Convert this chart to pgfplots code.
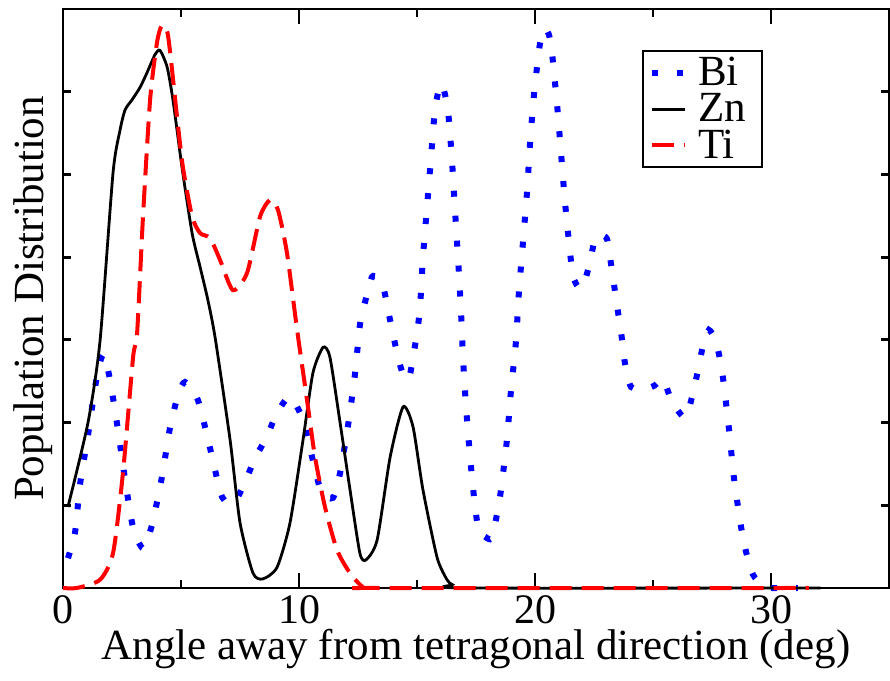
\documentclass[border=0pt]{standalone}
\usepackage{fontspec}
\setmainfont{Liberation Serif}
\usepackage{pgfplots}
\pgfplotsset{compat=1.18}

\pgfplotstableread{
x y
0.21 0.36
0.51 0.67
0.72 1.25
1.06 1.85
1.36 2.43
1.57 2.73
1.74 2.82
1.99 2.52
2.33 1.91
2.63 1.31
2.97 0.73
3.39 0.48
3.77 0.76
4.19 1.34
4.53 1.93
4.87 2.33
5.17 2.49
5.72 2.27
6.23 1.69
6.74 1.10
7.25 1.03
7.71 1.28
8.14 1.57
8.64 1.83
9.07 2.12
9.62 2.31
10.17 2.03
10.68 1.43
10.97 1.15
11.44 1.09
11.74 1.39
12.08 1.97
12.37 2.58
12.58 3.18
12.80 3.46
13.09 3.76
13.35 3.75
13.56 3.66
13.77 3.36
13.98 3.08
14.19 2.79
14.49 2.52
14.70 2.58
14.83 2.79
15.00 3.08
15.13 3.40
15.25 3.99
15.42 4.59
15.59 5.19
15.76 5.78
15.97 6.08
16.10 6.06
16.31 5.78
16.48 5.18
16.61 4.57
16.74 3.98
16.86 3.37
16.95 2.78
17.08 2.18
17.25 1.58
17.46 0.98
17.63 0.68
17.88 0.62
18.14 0.60
18.39 0.89
18.56 1.19
18.81 1.79
18.98 2.38
19.19 2.97
19.32 3.58
19.49 4.18
19.66 4.78
19.79 5.38
19.96 5.97
20.21 6.58
20.42 6.76
20.59 6.69
20.72 6.47
20.93 5.86
21.10 5.27
21.27 4.67
21.48 4.07
21.61 3.77
21.82 3.64
22.03 3.64
22.33 3.94
22.54 4.23
22.75 4.27
23.05 4.22
23.22 3.92
23.52 3.33
23.69 3.00
23.81 2.72
24.07 2.43
24.70 2.41
25.08 2.45
25.42 2.53
25.81 2.25
26.36 2.06
26.69 2.35
26.91 2.64
27.12 2.93
27.37 3.12
27.63 3.00
27.80 2.82
27.97 2.53
28.22 1.92
28.43 1.33
28.73 0.74
28.94 0.44
29.24 0.16
29.62 0.04
30.04 0.00
31.14 0.00
}\bidata

\pgfplotstableread{
x y
0.21 0.98
1.06 2.00
1.57 2.99
2.12 5.02
2.42 5.54
2.63 5.78
2.92 5.90
3.26 6.05
3.56 6.23
3.90 6.45
4.11 6.50
4.41 6.30
4.66 5.90
5.04 5.09
5.47 4.29
5.81 3.88
6.14 3.48
6.45 3.02
7.08 1.79
7.50 0.79
8.05 0.18
8.47 0.11
9.07 0.25
9.62 0.79
10.17 1.79
10.59 2.60
11.02 2.91
11.31 2.79
11.74 2.00
12.16 1.19
12.58 0.42
12.84 0.34
13.31 0.58
13.86 1.58
14.41 2.19
14.83 1.95
15.25 1.19
15.85 0.37
16.27 0.10
16.50 0.04
17.00 0.00
32.10 0.00
}\zndata

\pgfplotstableread{
x y
0.00 0.00
0.59 0.00
1.57 0.10
2.12 0.42
2.54 1.39
2.97 2.79
3.14 3.08
3.39 4.49
3.69 5.90
3.98 6.59
4.19 6.80
4.45 6.68
4.83 5.70
5.08 5.09
5.47 4.49
5.81 4.29
6.23 4.23
6.65 3.97
7.20 3.60
7.80 3.81
8.35 4.49
8.77 4.69
9.11 4.57
9.49 4.05
9.92 3.12
10.38 2.19
10.68 1.58
11.10 0.98
11.61 0.46
12.16 0.18
12.71 0.01
13.20 0.00
31.60 0.00
}\tidata

\begin{document}
\begin{tikzpicture}
\begin{axis}[
  name=ax,
  scale only axis, width=413pt, height=289.5pt,
  xmin=0, xmax=35, ymin=0, ymax=7,
  clip=false,
  every axis/.append style={line width=1.4pt},
  major tick length=4pt,
  xtick={0,5,10,15,20,25,30}, xticklabels={},
  extra x ticks={0,10,20,30},
  extra x tick labels={0,10,20,30},
  extra x tick style={major tick length=7.5pt},
  ytick={1,2,3,4,5,6}, yticklabels={},
  major tick style={draw=black, line width=1.4pt},
  tick label style={font=\fontsize{21}{24}\selectfont},
  label style={font=\fontsize{21.5}{24}\selectfont},
  xlabel={Angle away from tetragonal direction (deg)},
  ylabel={Population Distribution},
  xlabel style={yshift=5pt},
  ylabel style={yshift=-6pt},
  legend style={at={(0.701,0.929)}, anchor=north west, draw=black, line width=1pt,
    font=\fontsize{21.5}{21}\selectfont, inner xsep=3pt, inner ysep=1pt, row sep=-1.5pt,
    nodes={inner xsep=5pt}},
  legend cell align=left,
  legend image code/.code={\draw[#1] (0pt,0pt) -- (16.5pt,0pt);},
]
\addplot[blue, line width=3pt, line cap=butt, dash pattern=on 3pt off 9.5pt, smooth, tension=0.4] table {\bidata};
\addplot[black, line width=1.4pt, smooth, tension=0.4] table {\zndata};
\addplot[red, line width=2pt, dash pattern=on 11pt off 5pt, smooth, tension=0.4] table {\tidata};
\legend{Bi,Zn,Ti}
\end{axis}
\pgfresetboundingbox
\path ([xshift=-31.5pt,yshift=-46.5pt]ax.south west) rectangle ([xshift=0.5pt,yshift=4.5pt]ax.north east);
\end{tikzpicture}
\end{document}
